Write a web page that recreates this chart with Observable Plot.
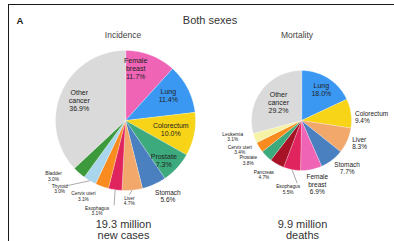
<!DOCTYPE html>
<html>
<head>
<meta charset="utf-8">
<script src="https://cdn.jsdelivr.net/npm/d3@7"></script>
<script src="https://cdn.jsdelivr.net/npm/@observablehq/plot@0.6"></script>
<style>
  body { margin: 0; background: #fff; font-family: "Liberation Sans", Arial, sans-serif; }
  #wrap { position: relative; width: 394px; height: 241px; overflow: hidden; background: #fff; }
  #chart { position: absolute; left: 0; top: 0; }
  #frame { position: absolute; left: 8px; top: 4px; width: 420px; height: 280px;
           border-left: 1.5px solid #1a1a1a; border-top: 1.5px solid #1a1a1a; }
  .t { position: absolute; white-space: nowrap; color: #333; transform: translate(-50%, -50%); }
</style>
</head>
<body>
<div id="wrap">
  <div id="chart"></div>
  <div id="frame"></div>
  <div class="t" style="left:20px;top:20px;font-size:9.5px;font-weight:bold;color:#222">A</div>
  <div class="t" style="left:210px;top:20px;font-size:11px">Both sexes</div>
  <div class="t" style="left:123px;top:35px;font-size:8.5px;color:#444">Incidence</div>
  <div class="t" style="left:297px;top:35px;font-size:8.5px;color:#444">Mortality</div>
</div>
<script>
// ---- data ----
const incCategories = ["Female breast", "Lung", "Colorectum", "Prostate", "Stomach", "Liver",
  "Esophagus", "Cervix uteri", "Thyroid", "Bladder", "Other cancer"];
const incValues = [11.7, 11.4, 10.0, 7.3, 5.6, 4.7, 3.1, 3.1, 3.0, 3.0, 36.9];

const morCategories = ["Lung", "Colorectum", "Liver", "Stomach", "Female breast", "Esophagus",
  "Pancreas", "Prostate", "Cervix uteri", "Leukemia", "Other cancer"];
const morValues = [18.0, 9.4, 8.3, 7.7, 6.9, 5.5, 4.7, 3.8, 3.4, 3.1, 29.2];

const totals = ["19.3 million", "9.9 million"];
const totalUnits = ["new cases", "deaths"];

// colour scale (category -> colour)
const colorDomain = ["Female breast", "Lung", "Colorectum", "Prostate", "Stomach", "Liver",
  "Esophagus", "Cervix uteri", "Thyroid", "Bladder", "Pancreas", "Leukemia", "Other cancer"];
const colorRange = ["#f064b6", "#3a98f2", "#f7d417", "#3caa7c", "#4b80c0", "#f2a86a",
  "#e0245e", "#f98b1f", "#a9d6ec", "#3c9a3c", "#a81226", "#f7f3a6", "#dadada"];

// ---- layout (not data) ----
const pies = [
  {cats: incCategories, vals: incValues, cx: 125, cy: 120, r: 70},
  {cats: morCategories, vals: morValues, cx: 301, cy: 120, r: 50}
];
const labelLayouts = [
  {
    "Female breast": {k: .72, dx: -8, dy: -5, size: 7, split: true},
    "Lung": {k: .72, dx: -2, dy: -2, size: 7},
    "Colorectum": {k: .66, dx: 0, dy: 0, size: 7},
    "Prostate": {k: .8, dx: -3, dy: 2, size: 7},
    "Stomach": {k: 1.2, dx: 8, dy: -1, size: 6.5},
    "Liver": {k: 1.15, dx: -4, dy: 0, size: 4.8, leader: [0, -6]},
    "Esophagus": {k: 1.3, dx: -15, dy: 0, size: 4.8, leader: [17, -5]},
    "Cervix uteri": {k: 1.15, dx: -15, dy: 0, size: 4.8},
    "Thyroid": {k: 1.2, dx: -23, dy: -4, size: 4.8, leader: [7, -3]},
    "Bladder": {k: 1.25, dx: -14, dy: -10, size: 4.8},
    "Other cancer": {k: .72, dx: 0, dy: 0, size: 7, split: true}
  },
  {
    "Lung": {k: .74, dx: 0, dy: 0, size: 7},
    "Colorectum": {k: 1.06, dx: 1, dy: 4, size: 6.5, anchor: "start"},
    "Liver": {k: 1.04, dx: 3, dy: 2, size: 6.5, anchor: "start"},
    "Stomach": {k: 1.2, dx: 9, dy: 0, size: 6.5},
    "Female breast": {k: 1.3, dx: 3, dy: 0, size: 6.5, split: true},
    "Esophagus": {k: 1.4, dx: 0, dy: 0, size: 4.8, leader: [9, -6]},
    "Pancreas": {k: 1.25, dx: -7, dy: 0, size: 4.8},
    "Prostate": {k: 1.2, dx: -11, dy: -3, size: 4.8},
    "Cervix uteri": {k: 1.2, dx: -11, dy: -3, size: 4.8},
    "Leukemia": {k: 1.3, dx: -8, dy: -6.5, size: 4.8},
    "Other cancer": {k: .58, dx: 0, dy: 0, size: 7, split: true}
  }
];

const slices = [], labels = [], leaders = [], totalText = [];
pies.forEach((p, pi) => {
  const arcs = d3.pie().sort(null).value(d => d.value)(p.cats.map((c, i) => ({name: c, value: p.vals[i]})));
  const polar = (a, rad) => [p.cx + rad * Math.sin(a), p.cy - rad * Math.cos(a)];
  arcs.forEach(a => {
    const pts = [[p.cx, p.cy]];
    const n = Math.max(2, Math.ceil((a.endAngle - a.startAngle) / (Math.PI / 180)));
    for (let i = 0; i <= n; i++) pts.push(polar(a.startAngle + (a.endAngle - a.startAngle) * i / n, p.r));
    pts.push([p.cx, p.cy]);
    slices.push({type: "Feature", properties: {name: a.data.name},
      geometry: {type: "Polygon", coordinates: [pts]}});
    const L = labelLayouts[pi][a.data.name];
    const mid = (a.startAngle + a.endAngle) / 2;
    const [x, y] = polar(mid, p.r * L.k);
    const nm = L.split ? a.data.name.replace(" ", "\n") : a.data.name;
    const txt = nm + "\n" + a.data.value.toFixed(1) + "%";
    labels.push({text: txt, x: x + L.dx, y: y + L.dy, size: L.size, anchor: L.anchor || "middle"});
    if (L.leader) {
      const [ex, ey] = polar(mid, p.r);
      leaders.push({x1: ex, y1: ey, x2: x + L.dx + L.leader[0], y2: y + L.dy + L.leader[1]});
    }
  });
  totalText.push({text: totals[pi] + "\n" + totalUnits[pi], x: p.cx + (pi === 0 ? -2 : 1), y: 229});
});

const sizes = [...new Set(labels.map(d => d.size))];
const anchors = ["middle", "start"];
const textMarks = [];
sizes.forEach(s => anchors.forEach(an => {
  const data = labels.filter(d => d.size === s && d.anchor === an);
  if (data.length) textMarks.push(Plot.text(data, {x: "x", y: "y", text: "text", fontSize: s,
    textAnchor: an, lineAnchor: "middle", lineHeight: 1.15, fill: "#222"}));
}));

const chart = Plot.plot({
  width: 394, height: 241,
  margin: 0,
  projection: {type: "identity"},
  color: {domain: colorDomain, range: colorRange},
  style: {fontFamily: "Liberation Sans, Arial, sans-serif", background: "transparent"},
  marks: [
    Plot.geo(slices, {fill: d => d.properties.name, stroke: "#fff", strokeWidth: 0.3}),
    Plot.link(leaders, {x1: "x1", y1: "y1", x2: "x2", y2: "y2", stroke: "#555", strokeWidth: 0.5}),
    ...textMarks,
    Plot.text(totalText, {x: "x", y: "y", text: "text", fontSize: 11, lineAnchor: "middle",
      lineHeight: 1.0, fill: "#333"})
  ]
});
document.getElementById("chart").appendChild(chart);
</script>
</body>
</html>
